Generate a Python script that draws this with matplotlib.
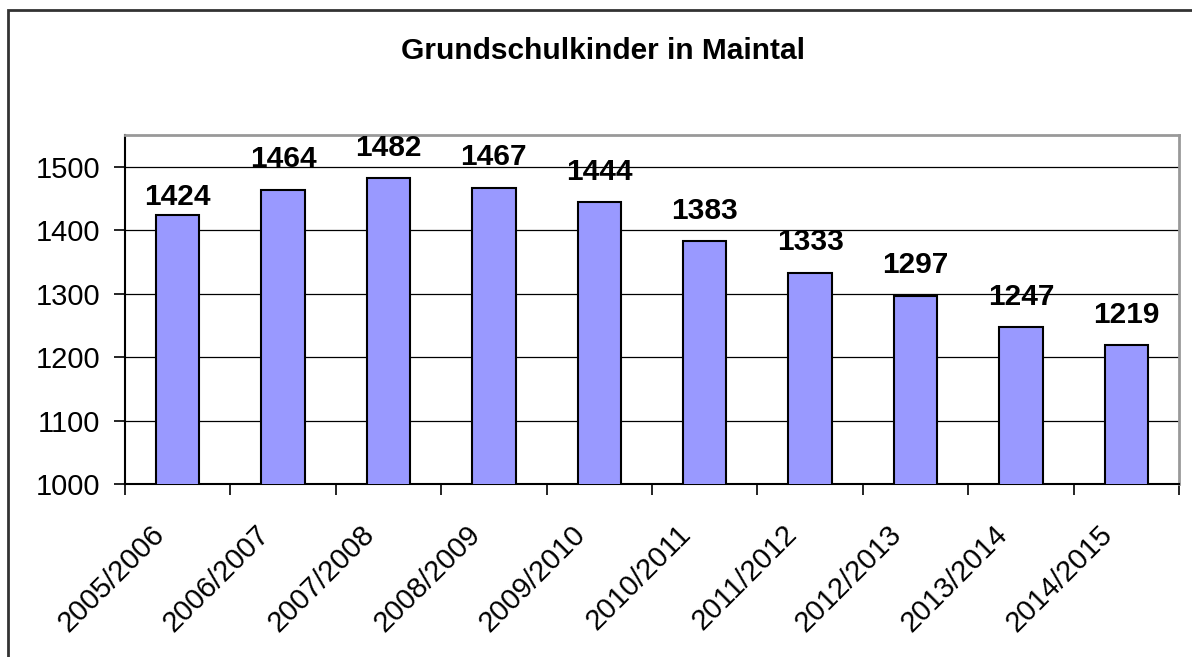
import numpy as np
import matplotlib.pyplot as plt
import matplotlib.transforms as mtransforms
from matplotlib.patches import Rectangle

plt.rcParams['font.family'] = ['Liberation Sans', 'DejaVu Sans']

# Schuljahre und Anzahl der Grundschulkinder
years = ["2005/2006", "2006/2007", "2007/2008", "2008/2009", "2009/2010",
         "2010/2011", "2011/2012", "2012/2013", "2013/2014", "2014/2015"]
children = [1424, 1464, 1482, 1467, 1444, 1383, 1333, 1297, 1247, 1219]
y_ticks = [1000, 1100, 1200, 1300, 1400, 1500]

fig = plt.figure(figsize=(11.92, 6.57), dpi=100)
ax = fig.add_axes([125 / 1192, 1 - 484 / 657, (1179 - 125) / 1192, (484 - 135) / 657])

x = np.arange(len(years))
bars = ax.bar(x, children, width=0.41, color='#9999FF', edgecolor='black',
              linewidth=1.5, zorder=3)

# Datenbeschriftungen (die erste sitzt im Original etwas tiefer)
for i, (xi, v) in enumerate(zip(x, children)):
    off = 7 if i == 0 else 16
    ax.annotate(str(v), (xi, v), xytext=(0, off), textcoords='offset points',
                ha='center', va='baseline', fontsize=21.5, fontweight='bold',
                annotation_clip=False)

ax.set_xlim(-0.5, len(years) - 0.5)
ax.set_ylim(1000, 1550)
ax.set_yticks(y_ticks)
ax.set_yticklabels([str(t) for t in y_ticks], fontsize=21)
ax.yaxis.grid(True, color='black', linewidth=0.9, zorder=0)

# Beschriftungen an Kategoriemitten, Striche an Kategoriegrenzen
ax.set_xticks(x)
ax.set_xticklabels(years, fontsize=21, rotation=45, ha='right',
                   va='center', rotation_mode='anchor')
ax.tick_params(axis='x', which='major', length=0, pad=33)
shift = mtransforms.ScaledTranslation(-18 / 100, 0, fig.dpi_scale_trans)
for lbl in ax.get_xticklabels():
    lbl.set_transform(lbl.get_transform() + shift)
ax.set_xticks(np.arange(-0.5, len(years)), minor=True)
ax.tick_params(axis='x', which='minor', length=8, width=1.2, direction='out')
ax.tick_params(axis='y', length=8, width=1.2, direction='out', pad=10)

for side in ['left', 'bottom']:
    ax.spines[side].set_color('black')
    ax.spines[side].set_linewidth(1.5)
for side in ['top', 'right']:
    ax.spines[side].set_color('#999999')
    ax.spines[side].set_linewidth(2)

fig.text(603 / 1192, 1 - 51 / 657, "Grundschulkinder in Maintal",
         ha='center', va='center', fontsize=21.5, fontweight='bold')

# Rahmen um das Diagramm
fig.patches.append(Rectangle((8 / 1192, -0.1), 1.2, 1 - 10 / 657 + 0.1,
                             transform=fig.transFigure, fill=False,
                             edgecolor='#333333', linewidth=2))

fig.savefig("out.png", dpi=100)
